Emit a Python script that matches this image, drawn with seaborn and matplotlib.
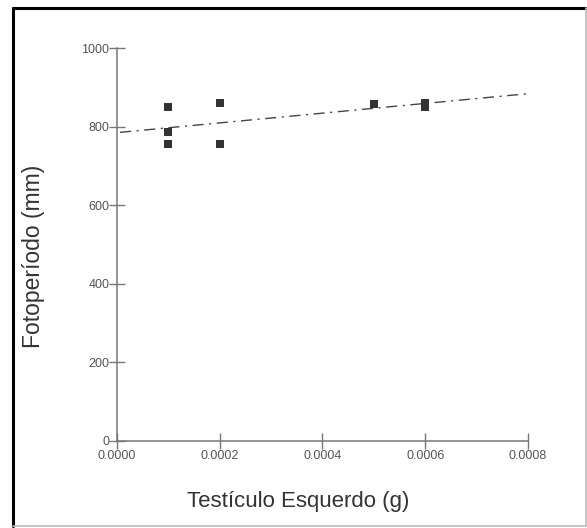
import matplotlib
matplotlib.use("Agg")
import matplotlib.pyplot as plt
import seaborn as sns
import pandas as pd
from matplotlib.lines import Line2D
from matplotlib.ticker import FormatStrFormatter

# testicle weight (g) vs photoperiod (mm)
testiculo = [0.0001, 0.0001, 0.0001, 0.0002, 0.0002, 0.0005, 0.0006, 0.0006]
fotoperiodo = [850, 787, 756, 860, 756, 858, 860, 851]

x_ticks = [0.0000, 0.0002, 0.0004, 0.0006, 0.0008]
y_ticks = [0, 200, 400, 600, 800, 1000]

df = pd.DataFrame({"x": testiculo, "y": fotoperiodo})

sns.set_style("ticks")
plt.rcParams['font.family'] = ['Liberation Sans', 'DejaVu Sans']

fig = plt.figure(figsize=(5.87, 5.28), dpi=100)
ax = fig.add_axes([0.1993, 0.1657, 0.7002, 0.7428])

# regression line (dash-dot) + square markers
sns.regplot(data=df, x="x", y="y", ax=ax, ci=None, truncate=False,
            scatter=False,
            line_kws=dict(color="#444444", lw=1.0, ls=(0, (8, 4, 1.5, 4))))
sns.scatterplot(data=df, x="x", y="y", ax=ax, marker="s", s=34,
                color="#333333", edgecolor="#333333", linewidth=0, zorder=3)

ax.set_xlim(0, 0.0008)
ax.set_ylim(0, 1000)
ax.set_xticks(x_ticks)
ax.set_yticks(y_ticks)
ax.xaxis.set_major_formatter(FormatStrFormatter("%.4f"))

for side in ["top", "right"]:
    ax.spines[side].set_visible(False)
for side in ["left", "bottom"]:
    ax.spines[side].set_color("#777777")
    ax.spines[side].set_linewidth(1.1)

ax.tick_params(axis="both", direction="inout", length=11, width=1.0,
               bottom=True, left=True,
               color="#777777", labelcolor="#555555", labelsize=9, pad=0)
ax.tick_params(axis="x", pad=1)

ax.set_xlabel("Testículo Esquerdo (g)", fontsize=16, color="#333333")
ax.set_ylabel("Fotoperíodo (mm)", fontsize=16.5, color="#333333")
ax.xaxis.set_label_coords(0.44, -0.13)
ax.yaxis.set_label_coords(-0.175, 0.47)

# frame around the picture
fig.add_artist(Line2D([13 / 587, 13 / 587], [0.003, 1 - 8 / 528], color="black", lw=2.2))
fig.add_artist(Line2D([13 / 587, 0.999], [1 - 8 / 528, 1 - 8 / 528], color="black", lw=2.2))
fig.add_artist(Line2D([0.998, 0.998], [0.003, 1 - 8 / 528], color="#bbbbbb", lw=1.2))
fig.add_artist(Line2D([13 / 587, 0.999], [0.003, 0.003], color="#bbbbbb", lw=1.2))

fig.savefig("out.png", dpi=100)
